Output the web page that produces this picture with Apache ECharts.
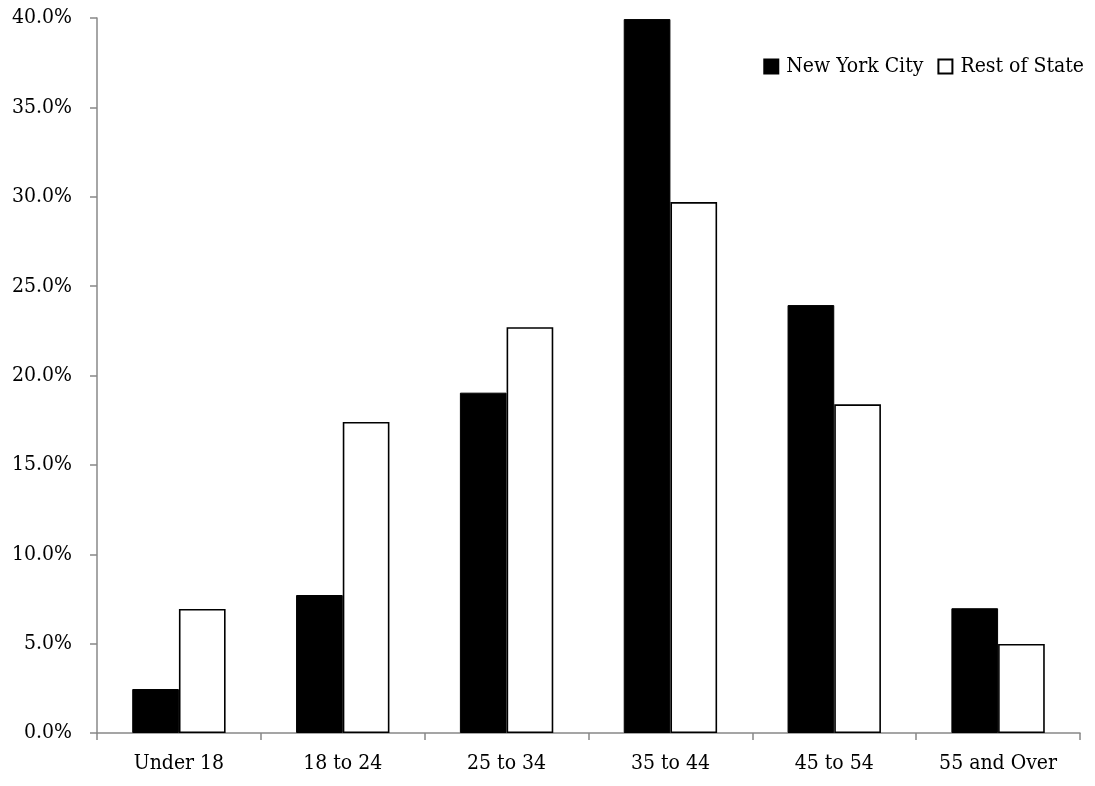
<!DOCTYPE html>
<html><head><meta charset="utf-8">
<script src="https://cdn.jsdelivr.net/npm/echarts@6/dist/echarts.min.js"></script>
<style>html,body{margin:0;padding:0;background:#fff}#c{width:1095px;height:786px}</style>
</head><body><div id="c"></div>
<script>
const categories = ['Under 18','18 to 24','25 to 34','35 to 44','45 to 54','55 and Over'];
const nycValues = [2.46, 7.72, 19.04, 39.94, 23.94, 6.98];
const restValues = [6.94, 17.4, 22.7, 29.7, 18.39, 4.98];
const seriesNames = ['New York City','Rest of State'];
const font = '"DejaVu Serif Condensed", "DejaVu Serif", serif';
const fs = 21;
const chart = echarts.init(document.getElementById('c'));
chart.setOption({
  animation:false,
  textStyle:{fontFamily:font},
  grid:{left:97,right:15,top:18,bottom:53,containLabel:false},
  legend:{right:6,top:51,itemGap:14,itemWidth:14,itemHeight:14,icon:'rect',
    textStyle:{fontFamily:font,fontSize:fs,color:'#000',padding:[0,0,0,3]},
    data:seriesNames},
  xAxis:{type:'category',data:categories,
    axisLine:{lineStyle:{color:'#888',width:1.5}},
    axisTick:{show:true,length:7,lineStyle:{color:'#888',width:1.5}},
    axisLabel:{fontFamily:font,fontSize:fs,color:'#000',margin:20}},
  yAxis:{type:'value',min:0,max:40,interval:5,
    axisLine:{show:true,lineStyle:{color:'#888',width:1.5}},
    axisTick:{show:true,length:7,lineStyle:{color:'#888',width:1.5}},
    splitLine:{show:false},
    axisLabel:{fontFamily:font,fontSize:fs,color:'#000',margin:25,formatter:v=>v.toFixed(1)+'%'}},
  series:[
    {name:seriesNames[0],type:'bar',data:nycValues,barGap:'0%',barCategoryGap:'43%',
      itemStyle:{color:'#000',borderColor:'#000',borderWidth:1}},
    {name:seriesNames[1],type:'bar',data:restValues,barGap:'0%',barCategoryGap:'43%',
      itemStyle:{color:'#fff',borderColor:'#000',borderWidth:1.6}}
  ]
});
</script></body></html>
